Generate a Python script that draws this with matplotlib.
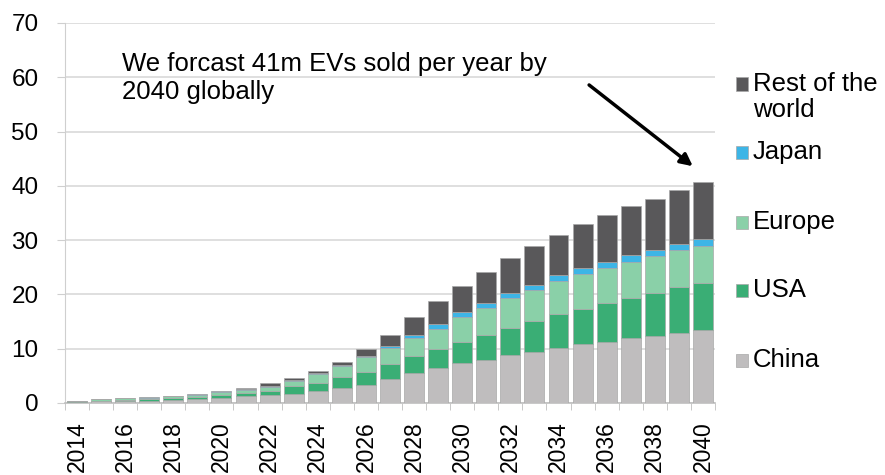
import numpy as np
import matplotlib
matplotlib.use("Agg")
import matplotlib.pyplot as plt
from matplotlib.patches import Rectangle

plt.rcParams['font.family'] = ['Liberation Sans', 'DejaVu Sans']

years = list(range(2014, 2041))
series = ["China", "USA", "Europe", "Japan", "Rest of the\nworld"]
colors = ["#bfbdbe", "#3aae75", "#8ad0a8", "#3db5e6", "#59585a"]

# EV sales, millions per year
china = [0.2, 0.3, 0.4, 0.45, 0.6, 0.7, 0.9, 1.2, 1.5, 1.7, 2.2, 2.8, 3.4, 4.5,
         5.5, 6.4, 7.3, 7.9, 8.8, 9.4, 10.1, 10.8, 11.3, 11.9, 12.4, 12.9, 13.4]
usa = [0.1, 0.15, 0.2, 0.25, 0.3, 0.4, 0.55, 0.65, 0.7, 1.4, 1.4, 1.9, 2.4, 2.6,
       3.1, 3.5, 4.0, 4.7, 5.1, 5.7, 6.3, 6.6, 7.1, 7.4, 7.9, 8.4, 8.7]
europe = [0.1, 0.2, 0.25, 0.3, 0.35, 0.45, 0.6, 0.6, 0.8, 1.0, 1.8, 2.1, 2.6, 3.0,
          3.3, 3.8, 4.5, 4.9, 5.4, 5.8, 6.0, 6.4, 6.5, 6.7, 6.8, 6.8, 6.9]
japan = [0.02, 0.03, 0.03, 0.04, 0.05, 0.06, 0.1, 0.12, 0.15, 0.15, 0.15, 0.2, 0.3, 0.4,
         0.7, 0.9, 0.9, 0.9, 1.0, 0.9, 1.1, 1.0, 1.0, 1.2, 1.1, 1.1, 1.2]
rest = [0.02, 0.03, 0.04, 0.05, 0.06, 0.1, 0.15, 0.25, 0.45, 0.35, 0.35, 0.6, 1.2, 2.1,
        3.2, 4.1, 4.9, 5.8, 6.4, 7.2, 7.5, 8.2, 8.8, 9.0, 9.4, 10.1, 10.6]

data = [china, usa, europe, japan, rest]

fig = plt.figure(figsize=(8.85, 4.75), dpi=100)
ax = fig.add_axes([0.0734, 0.1516, 0.7345, 0.80])

bottom = np.zeros(len(years))
for vals, col in zip(data, colors):
    ax.bar(years, vals, width=0.83, bottom=bottom, color=col,
           edgecolor="#a8a8a8", linewidth=0.5, zorder=3)
    bottom += np.array(vals)

ax.set_xlim(2013.5, 2040.5)
ax.set_ylim(0, 70)
ax.set_yticks(range(0, 71, 10))
ax.yaxis.grid(True, color="#d9d9d9", linewidth=1.2, zorder=0)

ax.set_xticks(years[::2])
ax.set_xticklabels([str(y) for y in years[::2]], rotation=90)
ax.set_xticks(np.arange(2013.5, 2041, 1), minor=True)
ax.tick_params(axis='x', which='major', length=0, pad=13, labelsize=16.5)
ax.tick_params(axis='x', which='minor', length=5, color="#bfbfbf")
ax.tick_params(axis='y', length=6, color="#cfcfcf", pad=13, labelsize=17.5)

for s in ["top", "right"]:
    ax.spines[s].set_visible(False)
ax.spines["left"].set_color("#cfcfcf")
ax.spines["bottom"].set_color("#bfbfbf")
ax.spines["bottom"].set_linewidth(1.2)

ax.annotate("", xy=(2039.67, 43.3), xytext=(2035.18, 58.9),
            arrowprops=dict(arrowstyle="-|>", color="black", lw=2.5,
                            mutation_scale=18), zorder=5)
ax.text(2015.88, 59.9, "We forcast 41m EVs sold per year by\n2040 globally",
        fontsize=18.5, ha="left", va="center", linespacing=1.2, zorder=5)

# legend drawn by hand, top entry first
legend_y = [360, 290, 222, 152, 84]
for name, col, py in zip(series, colors, legend_y):
    yf = 1 - py / 475
    fig.patches.append(Rectangle((736 / 885, yf - 6.5 / 475), 12 / 885, 13 / 475,
                                 transform=fig.transFigure, facecolor=col,
                                 edgecolor="#a8a8a8", linewidth=0.5))
    if "\n" in name:
        fig.text(753 / 885, yf + 12 / 475, name, fontsize=18.5, ha="left", va="top",
                 linespacing=1.12)
    else:
        fig.text(753 / 885, yf, name, fontsize=18.5, ha="left", va="center")

fig.savefig("out.png", dpi=100)
